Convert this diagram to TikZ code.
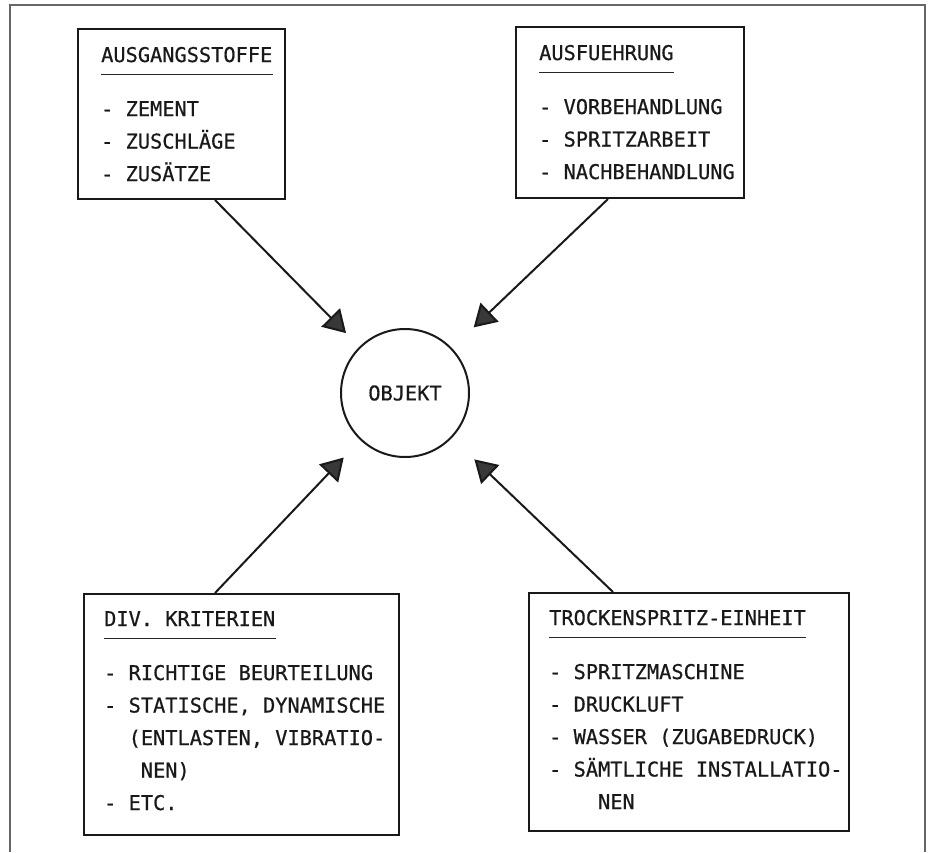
\documentclass[tikz,border=0pt]{standalone}
\usepackage{fontspec}
\setmonofont{DejaVu Sans Mono}[FakeBold=0.6]
\usetikzlibrary{arrows.meta,positioning}

\begin{document}
\begin{tikzpicture}[x=1pt,y=-1pt,
		every node/.style={font=\ttfamily\fontsize{20.3}{24}\selectfont, text=black!90},
		kasten/.style={draw=black!90, line width=2pt, anchor=north west, inner sep=0pt},
		kopf/.style={anchor=base west, inner sep=0pt},
		zeile/.style={anchor=base west, inner sep=0pt},
		strich/.style={line width=1.6pt, black!85},
		pfeil/.style={line width=2pt, black!90, -{Triangle[length=22pt,width=26pt,fill=black!78]}},
		rahmen/.style={draw=black!60, line width=1.5pt}]
		\useasboundingbox (0,0) rectangle (932,852);
		\draw[rahmen] (10,852) |- (925,5) -- (925,852);
		
		\node[circle, draw=black!90, line width=2pt, minimum size=128pt, inner sep=0pt] (objekt) at (405,393) {OBJEKT};
		
		\node[kasten, minimum width=207pt, minimum height=170pt] (stoffe) at (77,28) {};
		\node[kopf] (stoffekopf) at ([xshift=24pt,yshift=-34pt]stoffe.north west) {AUSGANGSSTOFFE};
		\draw[strich] ([yshift=-12.5pt]stoffekopf.base west) -- ([yshift=-12.5pt]stoffekopf.base east);
		\foreach \t [count=\i] in {- ZEMENT, - ZUSCHLÄGE, - ZUSÄTZE}
			\node[zeile] (stoffe\i) at ([yshift={-54pt-32.5pt*(\i-1)}]stoffekopf.base west) {\t};
		
		\node[kasten, minimum width=228pt, minimum height=171pt] (ausf) at (515,26) {};
		\node[kopf] (ausfkopf) at ([xshift=24pt,yshift=-34pt]ausf.north west) {AUSFUEHRUNG};
		\draw[strich] ([yshift=-12.5pt]ausfkopf.base west) -- ([yshift=-12.5pt]ausfkopf.base east);
		\foreach \t [count=\i] in {- VORBEHANDLUNG, - SPRITZARBEIT, - NACHBEHANDLUNG}
			\node[zeile] (ausf\i) at ([yshift={-54pt-32.5pt*(\i-1)}]ausfkopf.base west) {\t};
		
		\node[kasten, minimum width=315pt, minimum height=241pt] (krit) at (83,593) {};
		\node[kopf] (kritkopf) at ([xshift=21pt,yshift=-33pt]krit.north west) {DIV. KRITERIEN};
		\draw[strich] ([yshift=-12.5pt]kritkopf.base west) -- ([yshift=-12.5pt]kritkopf.base east);
		\foreach \t [count=\i] in {- RICHTIGE BEURTEILUNG, {- STATISCHE, DYNAMISCHE}, {~~(ENTLASTEN, VIBRATIO-}, ~~~NEN), - ETC.}
			\node[zeile] (krit\i) at ([yshift={-54pt-32.5pt*(\i-1)}]kritkopf.base west) {\t};
		
		\node[kasten, minimum width=320pt, minimum height=238pt] (einheit) at (528,592) {};
		\node[kopf] (einheitkopf) at ([xshift=21pt,yshift=-33pt]einheit.north west) {TROCKENSPRITZ-EINHEIT};
		\draw[strich] ([yshift=-12.5pt]einheitkopf.base west) -- ([yshift=-12.5pt]einheitkopf.base east);
		\foreach \t [count=\i] in {- SPRITZMASCHINE, - DRUCKLUFT, - WASSER (ZUGABEDRUCK), - SÄMTLICHE INSTALLATIO-, ~~~~NEN}
			\node[zeile] (einheit\i) at ([yshift={-54pt-32.5pt*(\i-1)}]einheitkopf.base west) {\t};
		
		\coordinate (stoffeaus) at ([xshift=138pt]stoffe.south west);
		\coordinate (ausfaus) at ([xshift=93pt]ausf.south west);
		\coordinate (kritaus) at ([xshift=132pt]krit.north west);
		\coordinate (einheitaus) at ([xshift=85pt]einheit.north west);
		\draw[pfeil, shorten >=19pt] (stoffeaus) -- (objekt);
		\draw[pfeil, shorten >=30pt] (ausfaus) -- (objekt);
		\draw[pfeil, shorten >=24pt] (kritaus) -- (objekt);
		\draw[pfeil, shorten >=31pt] (einheitaus) -- (objekt);
	\end{tikzpicture}
\end{document}
